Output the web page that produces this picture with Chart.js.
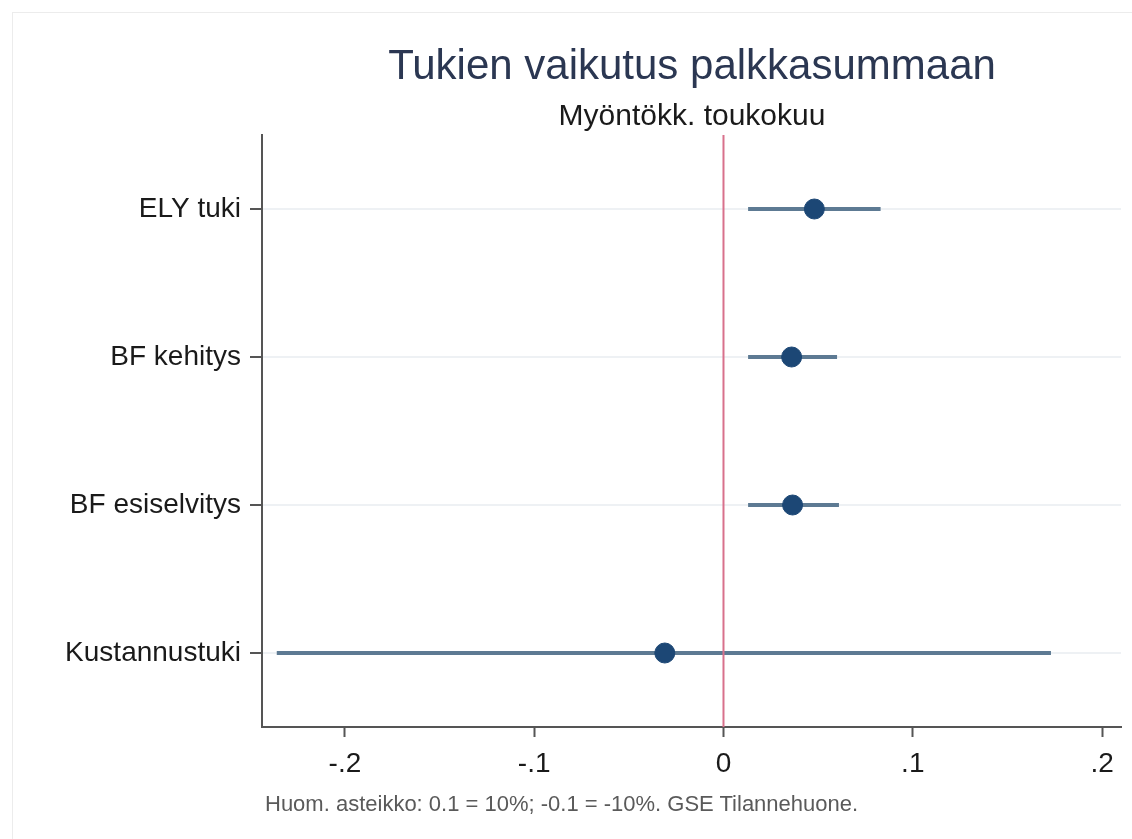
<!DOCTYPE html>
<html lang="fi">
<head>
<meta charset="utf-8">
<title>Tukien vaikutus palkkasummaan</title>
<script src="https://cdn.jsdelivr.net/npm/chart.js@4"></script>
<style>
  html, body { margin: 0; padding: 0; background: #fff; }
  body { width: 1132px; height: 839px; position: relative; overflow: hidden; font-family: 'Liberation Sans', Arial, sans-serif; }
  .frame { position: absolute; left: 12px; top: 12px; right: -2px; bottom: -2px; border: 1px solid #ececec; }
  #wrap { position: absolute; left: 0; top: 0; width: 1132px; height: 839px; }
  .title { position: absolute; left: 262px; width: 860px; text-align: center; white-space: nowrap; }
  #t1 { top: 41px; font-size: 42px; color: #2b3752; }
  #t2 { top: 98px; font-size: 30px; color: #1a1a1a; }
  #note { position: absolute; left: 265px; top: 791px; font-size: 22px; color: #5a5a5a; white-space: nowrap; }
</style>
</head>
<body>
<div class="frame"></div>
<div id="wrap"><canvas id="chart-coef" width="1132" height="839"></canvas></div>
<div class="title" id="t1">Tukien vaikutus palkkasummaan</div>
<div class="title" id="t2">Myöntökk. toukokuu</div>
<div id="note">Huom. asteikko: 0.1 = 10%; -0.1 = -10%. GSE Tilannehuone.</div>
<script>
const categories = ['ELY tuki', 'BF kehitys', 'BF esiselvitys', 'Kustannustuki'];
const estimates  = [0.048, 0.036, 0.0365, -0.031];
const ciLow      = [0.013, 0.013, 0.013, -0.236];
const ciHigh     = [0.083, 0.060, 0.061, 0.173];
const xTicks     = [-0.2, -0.1, 0, 0.1, 0.2];

const C_POINT = '#1c4775';
const C_CI = '#5d7a93';
const C_ZERO = '#d8718c';
const AXIS = '#555';
const TEXT = '#1a1a1a';
const FONT = "'Liberation Sans', Arial, sans-serif";

const fmtTick = (v) => {
  if (v === 0) return '0';
  const s = Math.abs(v).toFixed(1).replace(/^0/, '');
  return (v < 0 ? '-' : '') + s;
};

// one short line per category for the confidence interval
const ciSets = categories.map((c, i) => ({
  type: 'line',
  label: c + ' CI',
  data: [{ x: ciLow[i], y: i + 1 }, { x: ciHigh[i], y: i + 1 }],
  borderColor: C_CI,
  borderWidth: 4,
  pointRadius: 0,
  order: 3
}));

new Chart(document.getElementById('chart-coef'), {
  type: 'scatter',
  data: {
    datasets: [
      ...ciSets,
      {
        type: 'line',
        label: 'zero',
        data: [{ x: 0, y: 0.5 }, { x: 0, y: categories.length + 0.5 }],
        borderColor: C_ZERO,
        borderWidth: 2,
        pointRadius: 0,
        order: 2
      },
      {
        label: 'Estimaatti',
        data: estimates.map((v, i) => ({ x: v, y: i + 1 })),
        backgroundColor: C_POINT,
        borderColor: C_POINT,
        pointRadius: 10,
        order: 1
      }
    ]
  },
  options: {
    responsive: false,
    animation: false,
    layout: { padding: { top: 135, right: 10, left: 0, bottom: 0 } },
    plugins: {
      legend: { display: false },
      tooltip: { enabled: false }
    },
    scales: {
      x: {
        type: 'linear',
        min: -0.2438,
        max: 0.21,
        afterBuildTicks: (s) => { s.ticks = xTicks.map((v) => ({ value: v })); },
        afterFit: (s) => { s.height = 112; },
        border: { color: AXIS, width: 2 },
        grid: { drawOnChartArea: false, tickColor: AXIS, tickLength: 10, tickWidth: 2 },
        ticks: { color: TEXT, padding: 10, font: { family: FONT, size: 28 }, callback: (v) => fmtTick(v), maxRotation: 0 }
      },
      y: {
        type: 'linear',
        reverse: true,
        min: 0.5,
        max: categories.length + 0.5,
        afterBuildTicks: (s) => { s.ticks = categories.map((c, i) => ({ value: i + 1 })); },
        afterFit: (s) => { s.width = 262; },
        border: { color: AXIS, width: 2 },
        grid: { color: '#eef1f4', lineWidth: 2, tickColor: AXIS, tickLength: 12, tickWidth: 2 },
        ticks: { color: TEXT, padding: 9, font: { family: FONT, size: 28 }, callback: (v) => categories[v - 1] || '' }
      }
    }
  }
});
</script>
</body>
</html>
